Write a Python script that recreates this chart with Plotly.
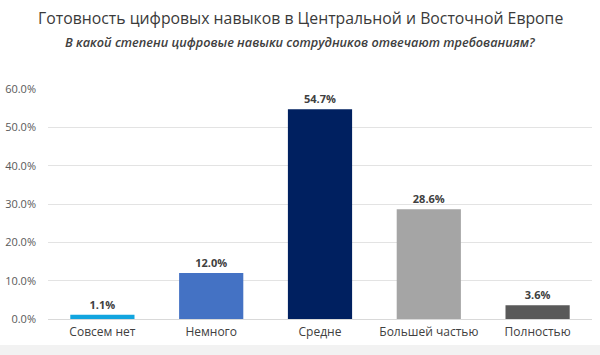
import plotly.graph_objects as go

categories = ["Совсем нет", "Немного", "Средне", "Большей частью", "Полностью"]
values = [1.1, 12.0, 54.7, 28.6, 3.6]
colors = ["#12a5df", "#4472c4", "#002060", "#a5a5a5", "#595959"]
y_ticks = [0, 10, 20, 30, 40, 50, 60]
title = "Готовность цифровых навыков в Центральной и Восточной Европе"
subtitle = "В какой степени цифровые навыки сотрудников отвечают требованиям?"

L, R, T, B = 48, 8, 89, 36
W, H = 600, 355
pw = W - L - R
cx = (W / 2 - L) / pw

fig = go.Figure()
fig.add_trace(go.Bar(
    x=categories, y=values,
    marker=dict(color=colors, line=dict(width=0)),
    width=0.59,
    text=[f"{v:.1f}%" for v in values],
    textposition="outside",
    textfont=dict(family="Open Sans", size=11, color="#404040", weight="bold"),
    cliponaxis=False,
))

fig.update_layout(
    width=W, height=H,
    margin=dict(l=L, r=R, t=T, b=B, autoexpand=False),
    paper_bgcolor="white", plot_bgcolor="white",
    showlegend=False,
    font=dict(family="Open Sans", color="#595959"),
    xaxis=dict(showgrid=False, showline=True, linecolor="#d9d9d9", linewidth=1,
               tickfont=dict(size=12, color="#404040"), ticks="", automargin=False),
    yaxis=dict(range=[0, 60], tickvals=y_ticks,
               ticktext=[f"{t:.1f}%" for t in y_ticks],
               showgrid=True, gridcolor="#e3e3e3", gridwidth=1, zeroline=False,
               tickfont=dict(size=11, color="#595959"), ticks="", automargin=False,
               ticklabelstandoff=11),
    annotations=[
        dict(text=title, x=cx, y=1, xref="paper", yref="paper", xanchor="center",
             yanchor="middle", yshift=(T - 18), showarrow=False,
             font=dict(family="Open Sans", size=15.8, color="#3a3a3a")),
        dict(text="<i>" + subtitle + "</i>", x=cx, y=1, xref="paper", yref="paper",
             xanchor="center", yanchor="middle", yshift=(T - 42), showarrow=False,
             font=dict(family="Open Sans", size=12.7, color="#404040", weight=600)),
    ],
    shapes=[dict(type="rect", xref="paper", yref="paper", x0=-0.1, x1=1.1,
                 y0=-26 / 230, y1=-0.3, fillcolor="#f2f2f2", line=dict(width=0), layer="below")],
)
fig.update_xaxes(ticklabelstandoff=2)
fig.write_html("out.html", config={"displayModeBar": False},
               post_script="document.body.style.margin='0';")
